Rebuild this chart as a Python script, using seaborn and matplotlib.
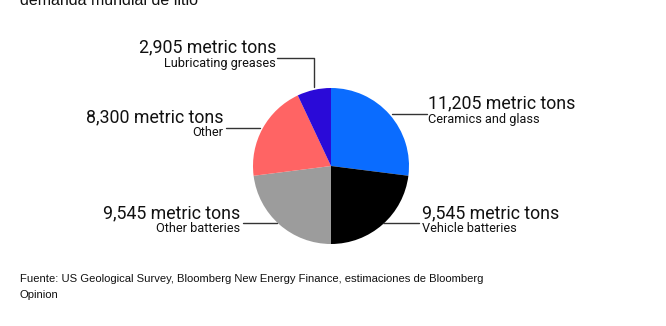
import matplotlib
matplotlib.use("Agg")
import matplotlib.pyplot as plt
import seaborn as sns

sns.set_theme(style="white")
plt.rcParams['font.family'] = ['Roboto', 'DejaVu Sans']

categories = ["Ceramics and glass", "Vehicle batteries", "Other batteries", "Other", "Lubricating greases"]
values = [11205, 9545, 9545, 8300, 2905]
value_labels = ["11,205 metric tons", "9,545 metric tons", "9,545 metric tons", "8,300 metric tons", "2,905 metric tons"]
colors = ["#0a6cff", "#000000", "#9c9c9c", "#ff6464", "#2a0ad8"]

W, H = 666, 326
fig = plt.figure(figsize=(W / 100, H / 100), dpi=100)
ax = fig.add_axes([0, 0, 1, 1])

cx, cy, r = 331, 166, 78
ax.pie(values, colors=colors, startangle=-90, counterclock=True, radius=r,
       center=(cx, cy), wedgeprops=dict(linewidth=0), frame=True)
ax.set_xlim(0, W)
ax.set_ylim(H, 0)
ax.axis("off")

def fx(x):
    return x / W

def fy(y):
    return 1 - y / H

big = 12.8
small = 9.2
tc = "#111111"
lc = "#333333"
# Ceramics and glass
ax.plot([392, 427], [114, 114], color=lc, lw=1)
fig.text(fx(428), fy(103), value_labels[0], fontsize=big, ha="left", va="center", color=tc)
fig.text(fx(428), fy(119), categories[0], fontsize=small, ha="left", va="center", color=tc)
# Vehicle batteries
ax.plot([383, 419], [223, 223], color=lc, lw=1)
fig.text(fx(422), fy(213), value_labels[1], fontsize=big, ha="left", va="center", color=tc)
fig.text(fx(422), fy(229), categories[1], fontsize=small, ha="left", va="center", color=tc)
# Other batteries
ax.plot([243, 277], [223, 223], color=lc, lw=1)
fig.text(fx(240), fy(213), value_labels[2], fontsize=big, ha="right", va="center", color=tc)
fig.text(fx(240), fy(229), categories[2], fontsize=small, ha="right", va="center", color=tc)
# Other
ax.plot([226, 260], [128, 128], color=lc, lw=1)
fig.text(fx(223), fy(117), value_labels[3], fontsize=big, ha="right", va="center", color=tc)
fig.text(fx(223), fy(132), categories[3], fontsize=small, ha="right", va="center", color=tc)
# Lubricating greases
ax.plot([277, 314, 314], [58, 58, 87], color=lc, lw=1)
fig.text(fx(276), fy(47), value_labels[4], fontsize=big, ha="right", va="center", color=tc)
fig.text(fx(276), fy(63), categories[4], fontsize=small, ha="right", va="center", color=tc)

# header (cut off) and source
foot = ["Liberation Sans", "DejaVu Sans"]
fig.text(fx(20), fy(5), "demanda mundial de litio", fontsize=11.5, ha="left", va="baseline",
         color=tc, family=foot)
fig.text(fx(20), fy(279), "Fuente: US Geological Survey, Bloomberg New Energy Finance, estimaciones de Bloomberg",
         fontsize=8.1, ha="left", va="center", color=tc, family=foot)
fig.text(fx(20), fy(295), "Opinion", fontsize=8.1, ha="left", va="center", color=tc, family=foot)

fig.savefig("out.png", dpi=100)
